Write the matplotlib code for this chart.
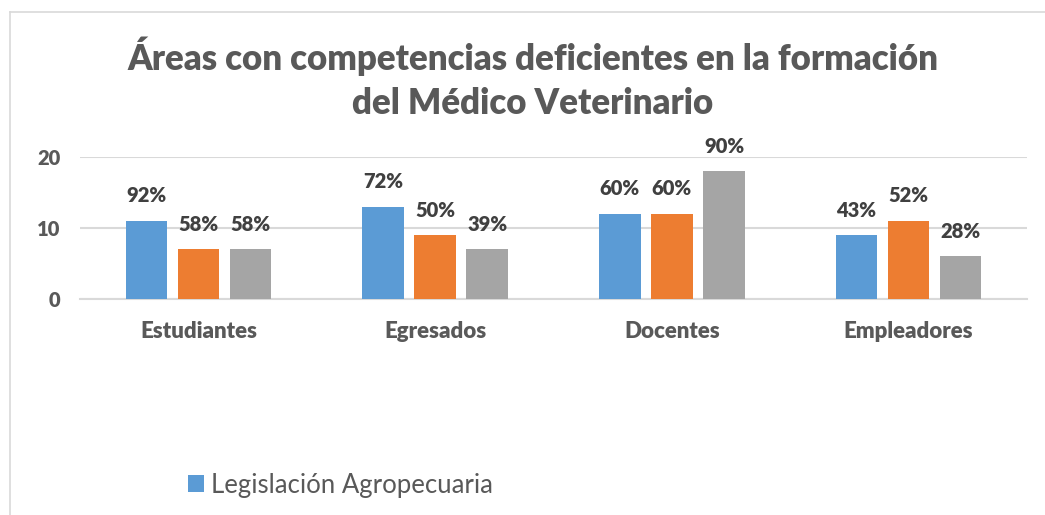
import matplotlib
matplotlib.use("Agg")
import matplotlib.pyplot as plt
import numpy as np
from matplotlib.patches import Patch
from matplotlib.lines import Line2D

categories = ["Estudiantes", "Egresados", "Docentes", "Empleadores"]
serie_1 = [11, 13, 12, 9]
serie_2 = [7, 9, 12, 11]
serie_3 = [7, 7, 18, 6]
etiquetas_1 = ["92%", "72%", "60%", "43%"]
etiquetas_2 = ["58%", "50%", "60%", "52%"]
etiquetas_3 = ["58%", "39%", "90%", "28%"]
legend_label = "Legislación Agropecuaria"
title = "Áreas con competencias deficientes en la formación\ndel Médico Veterinario"
yticks = [0, 10, 20]

colors = ["#5B9BD5", "#ED7D31", "#A5A5A5"]
text_color = "#595959"
label_color = "#404040"
grid_color = "#D9D9D9"
font = ["Lato", "DejaVu Sans"]

fig = plt.figure(figsize=(10.45, 5.15), dpi=100)
W, H = 1045, 515
ax = fig.add_axes([80 / W, 1 - 299 / H, (1027 - 80) / W, (299 - 157) / H])

x = np.arange(len(categories))
width = 0.175
step = 0.22
series = [serie_1, serie_2, serie_3]
labels = [etiquetas_1, etiquetas_2, etiquetas_3]
for i, (vals, labs, c) in enumerate(zip(series, labels, colors)):
    pos = x + (i - 1) * step
    ax.bar(pos, vals, width=width, color=c, zorder=3)
    for px, v, t in zip(pos, vals, labs):
        ax.annotate(t, (px, v), xytext=(0, 18), textcoords="offset points",
                    ha="center", va="center", fontsize=14.5, fontweight="heavy",
                    color=label_color, family=font)

ax.set_xlim(-0.5, len(categories) - 0.5)
ax.set_ylim(0, 20)
ax.set_yticks(yticks)
ax.set_xticks(x)
ax.set_xticklabels(categories)
ax.grid(axis="y", color=grid_color, linewidth=1.5, zorder=0)
for s in ["top", "right", "left"]:
    ax.spines[s].set_visible(False)
ax.spines["bottom"].set_color(grid_color)
ax.spines["bottom"].set_linewidth(1.5)
ax.tick_params(axis="both", length=0)
ax.tick_params(axis="x", pad=16)
ax.tick_params(axis="y", pad=14)
for t in ax.get_xticklabels() + ax.get_yticklabels():
    t.set_fontweight("heavy")
    t.set_color(text_color)
    t.set_fontfamily(font)
    t.set_fontsize(16)
for t in ax.get_yticklabels():
    t.set_fontsize(14.5)

fig.text(533 / W, 1 - 78 / H, title, ha="center", va="center", fontsize=25,
         fontweight="heavy", color=text_color, family=font, linespacing=1.4)

leg = fig.legend(handles=[Patch(facecolor=colors[0], edgecolor="none")],
                 labels=[legend_label], loc="center left",
                 bbox_to_anchor=(165 / W, 1 - 485 / H), frameon=False,
                 prop={"family": font, "size": 18.5}, handlelength=0.6,
                 handleheight=0.6, handletextpad=0.3)
for t in leg.get_texts():
    t.set_color(text_color)

# chart area border
fig.add_artist(Line2D([10 / W, 10 / W], [0, 1 - 12 / H], transform=fig.transFigure,
                      color=grid_color, linewidth=1.2))
fig.add_artist(Line2D([10 / W, 1], [1 - 12 / H, 1 - 12 / H], transform=fig.transFigure,
                      color=grid_color, linewidth=1.2))

fig.savefig("out.png", dpi=100, facecolor="white")
